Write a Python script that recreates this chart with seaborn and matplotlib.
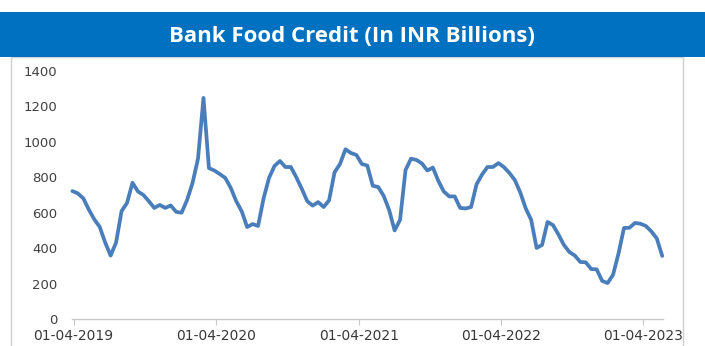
import matplotlib
matplotlib.use("Agg")
import matplotlib.pyplot as plt
from matplotlib.patches import Rectangle
import seaborn as sns
import pandas as pd

# ---- data -------------------------------------------------------------
title = "Bank Food Credit (In INR Billions)"
first_fortnight = "2019-03-29"
food_credit = [
    722, 709, 681, 618, 563, 520, 432, 358, 432, 609,
    655, 769, 720, 700, 665, 627, 644, 627, 641, 605,
    600, 672, 768, 905, 1248, 852, 838, 818, 796, 740,
    665, 608, 519, 536, 525, 680, 796, 864, 892, 858,
    858, 800, 735, 665, 640, 660, 632, 670, 828, 875,
    958, 937, 926, 875, 866, 752, 745, 695, 615, 500,
    560, 841, 905, 898, 878, 838, 855, 780, 720, 692,
    692, 627, 624, 632, 760, 815, 858, 858, 880, 858,
    825, 785, 715, 625, 560, 401, 418, 548, 530, 477,
    418, 378, 358, 322, 320, 282, 280, 215, 203, 250,
    370, 514, 515, 542, 538, 525, 495, 455, 356,
]
tick_dates = ["2019-04-01", "2020-04-01", "2021-04-01", "2022-04-01", "2023-04-01"]
tick_labels = ["01-04-2019", "01-04-2020", "01-04-2021", "01-04-2022", "01-04-2023"]
y_ticks = [0, 200, 400, 600, 800, 1000, 1200, 1400]

dates = pd.date_range(first_fortnight, periods=len(food_credit), freq="14D")
df = pd.DataFrame({"date": dates, "credit": food_credit})

# ---- figure -----------------------------------------------------------
sns.set_style("white")
plt.rcParams["font.family"] = ["DejaVu Sans"]

W, H = 705, 346
fig = plt.figure(figsize=(W / 100, H / 100), dpi=100)
fig.patch.set_facecolor("white")

# chart frame
fig.add_artist(Rectangle((11 / W, -0.05), (683 - 11) / W, (H - 57) / H + 0.05,
                         transform=fig.transFigure, facecolor="none",
                         edgecolor="#D0D0D0", linewidth=1.0, zorder=-5))
# title banner
fig.add_artist(Rectangle((0, (H - 57) / H), 1, 45 / H,
                         transform=fig.transFigure, facecolor="#0070C0",
                         edgecolor="none", zorder=5))
fig.text(352 / W, (H - 36) / H, title, color="white", ha="center", va="center",
         fontsize=16, fontweight="bold", family=["Open Sans", "DejaVu Sans"], zorder=6)

left, right = 72.4 / W, 663 / W
bottom, top = (H - 319) / H, (H - 71) / H
ax = fig.add_axes([left, bottom, right - left, top - bottom])
ax.set_facecolor("none")
ax.set_zorder(2)

sns.lineplot(data=df, x="date", y="credit", ax=ax, color="#4A7EBB",
             linewidth=2.7, clip_on=False)

ax.set_ylim(0, 1400)
ax.set_xlim(pd.Timestamp(first_fortnight), dates[-1] + pd.Timedelta(days=2))
ax.set_yticks(y_ticks)
ax.set_yticklabels([str(v) for v in y_ticks], fontsize=9.5, color="#404040")
ax.set_xticks(pd.to_datetime(tick_dates))
ax.set_xticklabels(tick_labels, fontsize=10, color="#383838")
ax.set_xlabel("")
ax.set_ylabel("")

for s in ["top", "right", "left"]:
    ax.spines[s].set_visible(False)
ax.spines["bottom"].set_color("#C8C8C8")
ax.spines["bottom"].set_linewidth(1.0)
ax.tick_params(axis="x", length=4, color="#C8C8C8", pad=3.5, bottom=True)
ax.tick_params(axis="y", length=0, pad=11)

fig.savefig("out.png", dpi=100)
